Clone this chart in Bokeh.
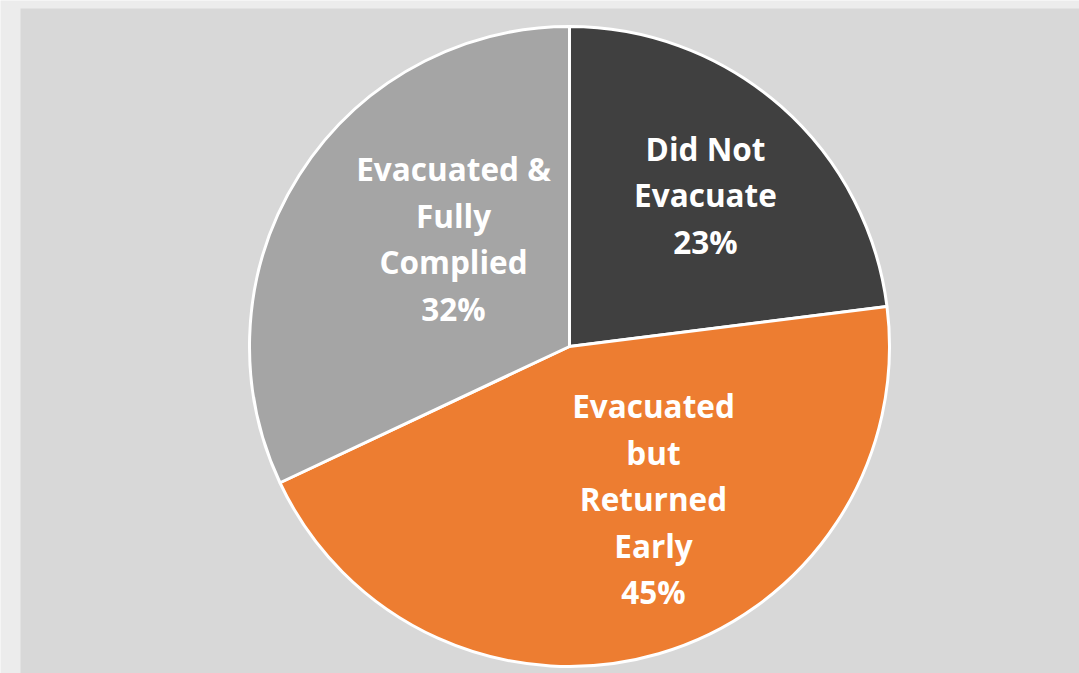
import math
from bokeh.plotting import figure
from bokeh.models import ColumnDataSource
from bokeh.core.properties import value
from bokeh.embed import file_html
from bokeh.resources import INLINE

categories = ["Did Not Evacuate", "Evacuated but Returned Early", "Evacuated & Fully Complied"]
shares = [23, 45, 32]
label_lines = [["Did Not", "Evacuate", "23%"],
               ["Evacuated", "but", "Returned", "Early", "45%"],
               ["Evacuated &", "Fully", "Complied", "32%"]]
colors = ["#404040", "#ed7d31", "#a5a5a5"]

W, H = 1079, 673
CX, CY, R = 569, H - 346, 320
# label anchor (centre of text block), in pixel units from the top-left
label_centres = [(705, 194), (653, 498), (453, 238)]
LINE_GAP = 46.5

p = figure(width=W, height=H, x_range=(0, W), y_range=(0, H),
           output_backend="svg", toolbar_location=None, min_border=0)
p.axis.visible = False
p.grid.visible = False
p.outline_line_color = None
p.background_fill_color = "#ececec"
p.border_fill_color = "#ececec"

# panel
p.quad(left=20, right=W, bottom=0, top=H - 8, fill_color="#d8d8d8", line_color=None)

total = sum(shares)
starts, ends = [], []
a = math.pi / 2
for s in shares:
    span = 2 * math.pi * s / total
    starts.append(a)
    ends.append(a - span)
    a -= span

src = ColumnDataSource(dict(start=starts, end=ends, color=colors, name=categories))
p.wedge(x=CX, y=CY, radius=R, start_angle="start", end_angle="end", direction="clock",
        fill_color="color", line_color="white", line_width=3, source=src)

xs, ys, texts = [], [], []
for lines, (lx, ly) in zip(label_lines, label_centres):
    n = len(lines)
    for i, t in enumerate(lines):
        xs.append(lx)
        ys.append(H - (ly + (i - (n - 1) / 2) * LINE_GAP))
        texts.append(t)
p.text(x=xs, y=ys, text=texts, text_color="white", text_font=value("Open Sans"),
       text_font_style="bold", text_font_size="31.5px", text_align="center",
       text_baseline="middle")

open("out.html", "w").write(file_html(p, INLINE))
